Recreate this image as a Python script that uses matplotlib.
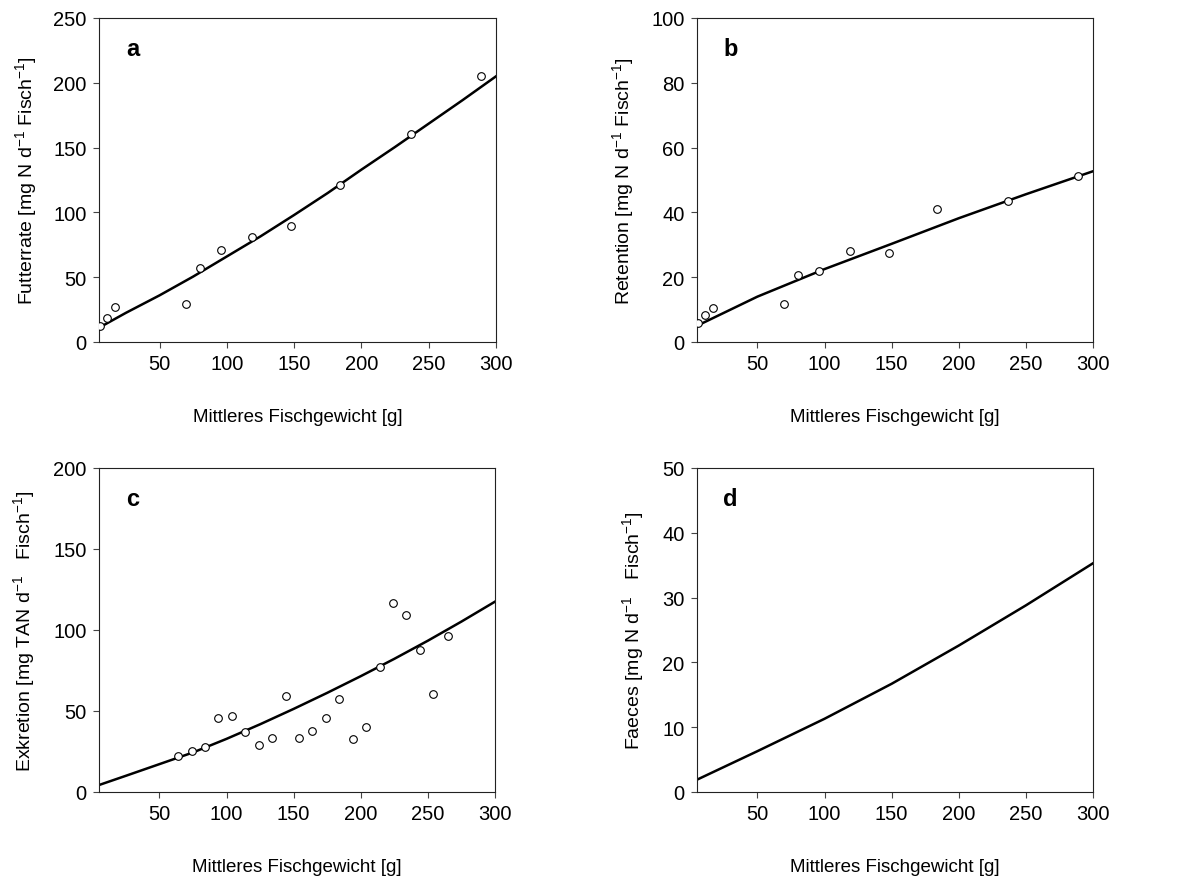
import matplotlib
matplotlib.use("Agg")
import matplotlib.pyplot as plt

plt.rcParams["font.family"] = ["Liberation Sans", "DejaVu Sans"]
plt.rcParams["mathtext.fontset"] = "custom"
plt.rcParams["mathtext.rm"] = "Liberation Sans"
plt.rcParams["mathtext.it"] = "Liberation Sans:italic"
plt.rcParams["mathtext.bf"] = "Liberation Sans:bold"

# measured points (panels a, b share the same fish weights)
weight_ab = [6, 11, 17, 70, 80, 96, 119, 148, 184, 237, 289]
feed_rate = [12.1, 18.8, 27.2, 29.0, 56.8, 70.7, 80.9, 89.2, 121.3, 160.8, 205.3]
retention = [5.9, 8.4, 10.4, 11.6, 20.7, 22.0, 28.0, 27.5, 41.2, 43.6, 51.2]

weight_c = [64, 74, 84, 94, 104, 114, 124, 134, 144, 154, 164, 174, 184,
            194, 204, 214, 224, 234, 244, 254, 265]
excretion = [22.0, 25.3, 27.8, 45.5, 47.0, 36.9, 29.2, 33.2, 59.1, 33.6, 37.7,
             45.9, 57.7, 32.7, 40.2, 77.2, 116.4, 109.4, 87.7, 60.8, 96.0]

# fitted curves
fit_x = [5, 25, 50, 75, 100, 125, 150, 175, 200, 225, 250, 275, 300]
fit_feed = [11.0, 22.5, 36.0, 50.5, 66.0, 81.5, 98.0, 115.0, 133.0, 150.5, 168.5, 186.5, 205.0]
fit_exc = [4.3, 10.0, 17.2, 24.4, 32.8, 41.8, 51.3, 61.2, 71.5, 82.2, 93.4, 105.2, 117.5]

fit_x50 = [5, 50, 100, 150, 200, 250, 300]
fit_ret = [5.0, 14.0, 22.5, 30.3, 38.2, 45.6, 52.7]
fit_faeces = [1.9, 6.3, 11.3, 16.7, 22.6, 28.8, 35.3]

x_ticks = [50, 100, 150, 200, 250, 300]

fig = plt.figure(figsize=(11.84, 8.78), dpi=100)
W, H = 1184, 878


def make_ax(left, top, right, bottom):
    return fig.add_axes([left / W, (H - bottom) / H, (right - left) / W, (bottom - top) / H])


axa = make_ax(99, 19, 496, 343)
axb = make_ax(697, 19, 1093, 343)
axc = make_ax(99, 469, 495, 793)
axd = make_ax(697, 469, 1093, 793)

panels = [
    (axa, "a", (0, 250), range(0, 251, 50),
     "Futterrate [mg N d$^{-1}$ Fisch$^{-1}$]", -0.15),
    (axb, "b", (0, 100), range(0, 101, 20),
     "Retention [mg N d$^{-1}$ Fisch$^{-1}$]", -0.154),
    (axc, "c", (0, 200), range(0, 201, 50),
     "Exkretion [mg TAN d$^{-1}$   Fisch$^{-1}$]", -0.156),
    (axd, "d", (0, 50), range(0, 51, 10),
     "Faeces [mg N d$^{-1}$   Fisch$^{-1}$]", -0.129),
]

mk = dict(ms=5.5, mfc="white", mec="black", mew=0.8, zorder=3)

axa.plot(fit_x, fit_feed, color="black", lw=1.8, zorder=2)
axa.plot(weight_ab, feed_rate, "o", **mk)

axb.plot(fit_x50, fit_ret, color="black", lw=1.8, zorder=2)
axb.plot(weight_ab, retention, "o", **mk)

axc.plot(fit_x, fit_exc, color="black", lw=1.8, zorder=2)
axc.plot(weight_c, excretion, "o", **mk)

axd.plot(fit_x50, fit_faeces, color="black", lw=1.8, zorder=2)

for ax, letter, ylim, yticks, ylabel, ylab_x in panels:
    ax.set_xlim(5, 300)
    ax.set_ylim(*ylim)
    ax.set_xticks(x_ticks)
    ax.set_yticks(list(yticks))
    ax.tick_params(direction="out", length=4, width=0.8, labelsize=14.5, pad=5,
                   top=False, right=False, color="#444444")
    for s in ax.spines.values():
        s.set_linewidth(0.8)
        s.set_color("#222222")
    ax.set_ylabel(ylabel, fontsize=14)
    ax.yaxis.set_label_coords(ylab_x, 0.5)
    ax.set_xlabel("Mittleres Fischgewicht [g]", fontsize=13.5)
    ax.xaxis.set_label_coords(0.5, -0.205)
    ax.text(0.085, 0.905, letter, transform=ax.transAxes, fontsize=17,
            fontweight="bold", ha="center", va="center")

fig.savefig("out.png", dpi=100, facecolor="white")
